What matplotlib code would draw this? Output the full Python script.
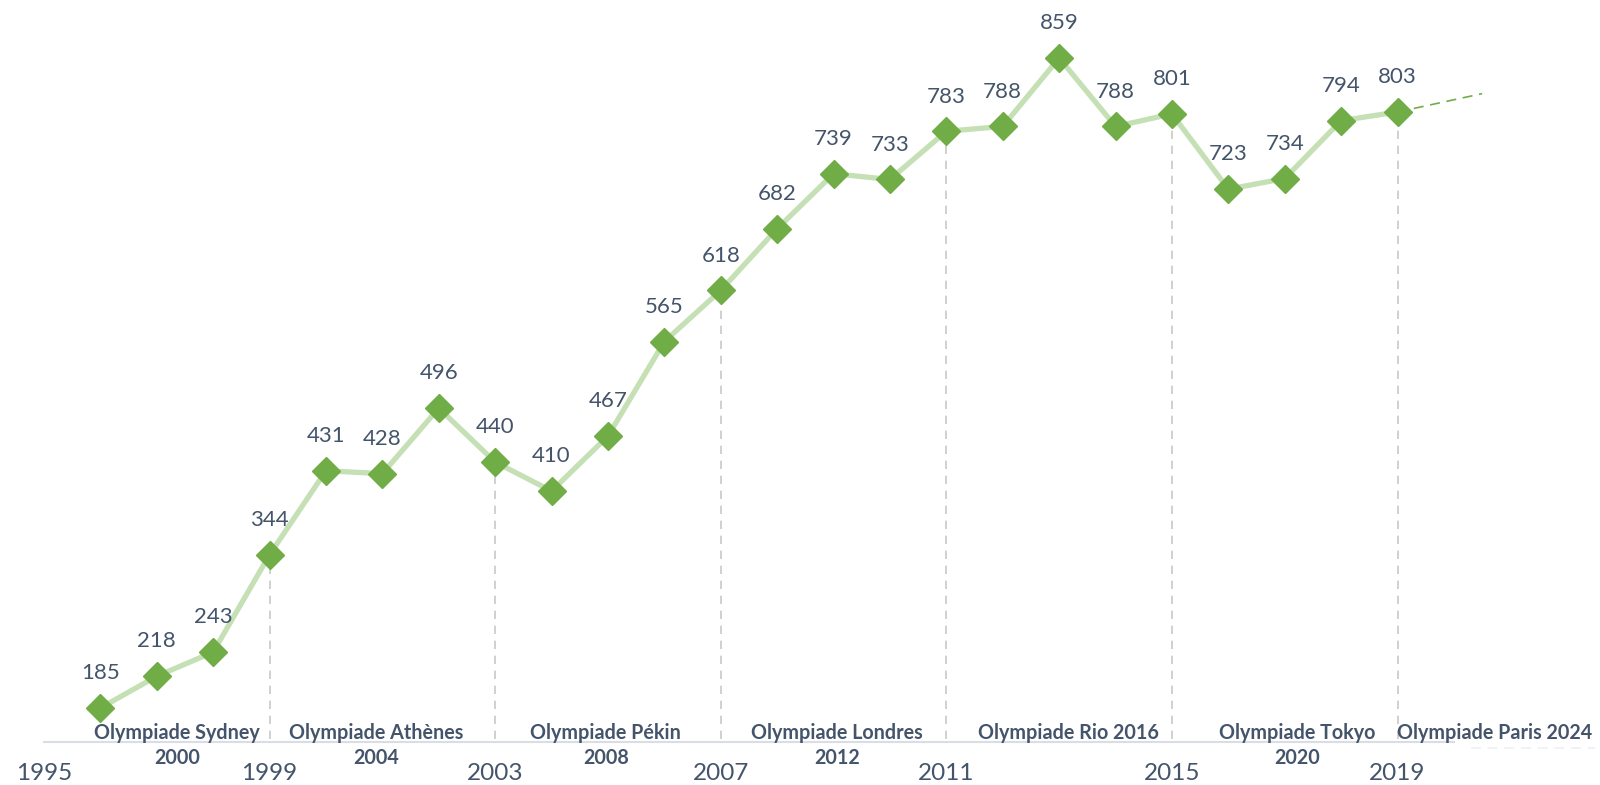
import matplotlib
matplotlib.use('Agg')
import matplotlib.pyplot as plt

# donnees
years = [1996, 1997, 1998, 1999, 2000, 2001, 2002, 2003, 2004, 2005, 2006, 2007,
         2008, 2009, 2010, 2011, 2012, 2013, 2014, 2015, 2016, 2017, 2018, 2019]
values = [185, 218, 243, 344, 431, 428, 496, 440, 410, 467, 565, 618,
          682, 739, 733, 783, 788, 859, 788, 801, 723, 734, 794, 803]
trend_years = [2019, 2020.5]
trend_values = [803, 822]
tick_years = [1995, 1999, 2003, 2007, 2011, 2015, 2019]
olymp_names = ['Olympiade Sydney', 'Olympiade Athènes', 'Olympiade Pékin',
               'Olympiade Londres', 'Olympiade Rio 2016', 'Olympiade Tokyo',
               'Olympiade Paris 2024']
olymp_years = ['2000', '2004', '2008', '2012', '', '2020', '']
olymp_pos = [1997.36, 2000.89, 2004.96, 2009.06, 2013.16, 2017.22, 2020.73]

plt.rcParams['font.family'] = ['Lato', 'DejaVu Sans']
txt = '#44546A'

fig = plt.figure(figsize=(16, 7.85), dpi=100)
ax = fig.add_axes([0, 0, 1, 1])
ax.set_xlim(1994.22, 2022.59)
ax.set_ylim(105.2, 919.1)
ax.axis('off')

base = 150
# axe
ax.plot([1995, 2020], [base, base], color='#D9DEE6', lw=1.5, zorder=1)
ax.plot([2020.3, 2022.5], [143.5, 143.5], color='#EEF0F3', lw=1.2, ls=(0, (6, 4)), zorder=1)

# lignes verticales
for y, v in zip(years, values):
    if y in tick_years:
        ax.plot([y, y], [base + 3, v], color='#C8C8C8', lw=1.2, ls=(0, (5, 4)), zorder=1)

ax.plot(trend_years, trend_values, color='#70AD47', lw=1.2, ls=(0, (6, 4)), zorder=2)
ax.plot(years, values, color='#C5E0B4', lw=3.8, zorder=3)
ax.plot(years, values, ls='none', marker='D', ms=14, color='#70AD47', zorder=4)

for y, v in zip(years, values):
    ax.annotate(str(v), (y, v), xytext=(0, 25), textcoords='offset points',
                ha='center', va='center', fontsize=16, color=txt)

for t in tick_years:
    ax.text(t, 117.6, str(t), ha='center', va='center', fontsize=17.5, color=txt)

for n, yy, p in zip(olymp_names, olymp_years, olymp_pos):
    ax.text(p, 159, n, ha='center', va='center', fontsize=14.2, fontweight='bold', color=txt)
    if yy:
        ax.text(p, 133, yy, ha='center', va='center', fontsize=14.2, fontweight='bold', color=txt)

fig.savefig('out.png', dpi=100)
